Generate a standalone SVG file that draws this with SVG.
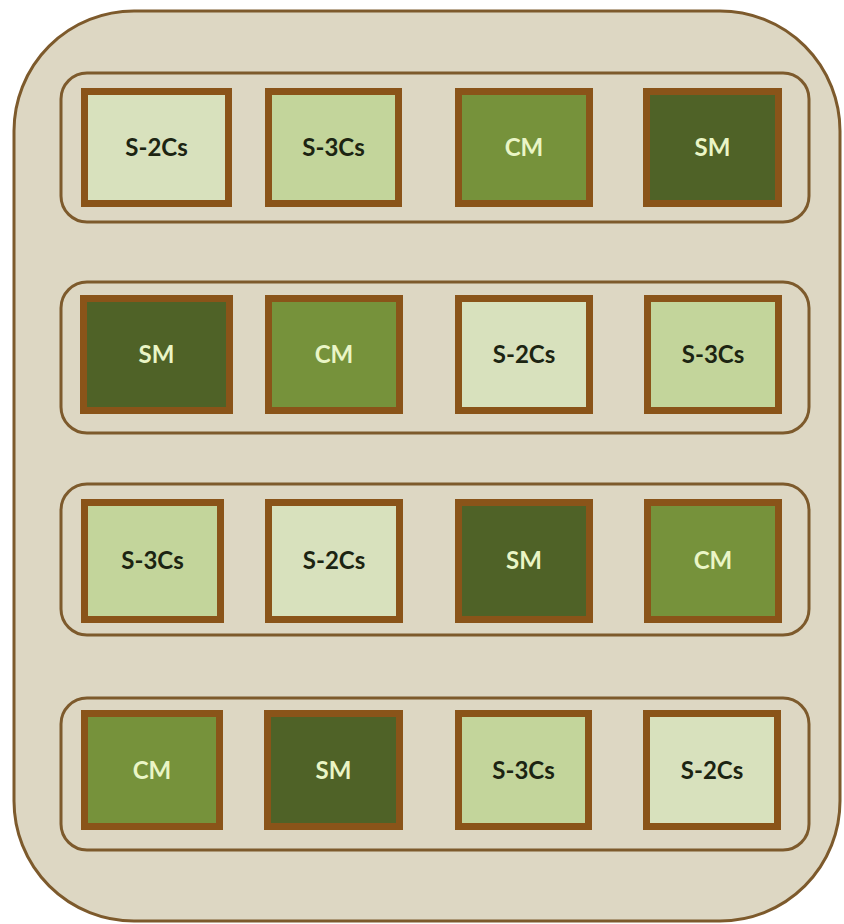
<svg xmlns="http://www.w3.org/2000/svg" width="844" height="924" viewBox="0 0 844 924">
  <style>
    .outer { fill: #ddd7c3; stroke: #7d5a2c; stroke-width: 3; }
    .band { fill: none; stroke: #7d5a2c; stroke-width: 3; }
    .box { stroke: #8a5419; stroke-width: 7; }
    .s2 { fill: #d8e1bd; }
    .s3 { fill: #c3d59b; }
    .cm { fill: #76923b; }
    .sm { fill: #4f6227; }
    text { font-family: Lato, "Liberation Sans", sans-serif; font-weight: bold; font-size: 24px; text-anchor: middle; }
    .dk { fill: #1c2412; }
    .lt { fill: #eaf5c6; }
  </style>
  <rect width="844" height="924" fill="#ffffff"/>
  <rect id="container" class="outer" x="14" y="11" width="826" height="910" rx="120" ry="120"/>
  <g id="row1">
    <rect class="band" x="61" y="73" width="748" height="149" rx="26"/>
    <g id="r1-s2cs"><rect class="box s2" x="84.5" y="91.5" width="144" height="112"/><text class="dk" x="156.5" y="156">S-2Cs</text></g>
    <g id="r1-s3cs"><rect class="box s3" x="268.5" y="91.5" width="130" height="112"/><text class="dk" x="333.5" y="156">S-3Cs</text></g>
    <g id="r1-cm"><rect class="box cm" x="458.5" y="91.5" width="131" height="112"/><text class="lt" x="524" y="156">CM</text></g>
    <g id="r1-sm"><rect class="box sm" x="646.5" y="91.5" width="132" height="112"/><text class="lt" x="712.5" y="156">SM</text></g>
  </g>
  <g id="row2">
    <rect class="band" x="61" y="282" width="748" height="151" rx="26"/>
    <g id="r2-sm"><rect class="box sm" x="83.5" y="298.5" width="146" height="112"/><text class="lt" x="156.5" y="363">SM</text></g>
    <g id="r2-cm"><rect class="box cm" x="268.5" y="298.5" width="131" height="112"/><text class="lt" x="334" y="363">CM</text></g>
    <g id="r2-s2cs"><rect class="box s2" x="458.5" y="298.5" width="131" height="112"/><text class="dk" x="524" y="363">S-2Cs</text></g>
    <g id="r2-s3cs"><rect class="box s3" x="647.5" y="298.5" width="131" height="112"/><text class="dk" x="713" y="363">S-3Cs</text></g>
  </g>
  <g id="row3">
    <rect class="band" x="61" y="484" width="748" height="151" rx="26"/>
    <g id="r3-s3cs"><rect class="box s3" x="84.5" y="502.5" width="136" height="117"/><text class="dk" x="152.5" y="569">S-3Cs</text></g>
    <g id="r3-s2cs"><rect class="box s2" x="268.5" y="502.5" width="131" height="117"/><text class="dk" x="334" y="569">S-2Cs</text></g>
    <g id="r3-sm"><rect class="box sm" x="458.5" y="502.5" width="131" height="117"/><text class="lt" x="524" y="569">SM</text></g>
    <g id="r3-cm"><rect class="box cm" x="647.5" y="502.5" width="131" height="117"/><text class="lt" x="713" y="569">CM</text></g>
  </g>
  <g id="row4">
    <rect class="band" x="61" y="698" width="748" height="152" rx="26"/>
    <g id="r4-cm"><rect class="box cm" x="84.5" y="713.5" width="135" height="113"/><text class="lt" x="152" y="779">CM</text></g>
    <g id="r4-sm"><rect class="box sm" x="267.5" y="713.5" width="132" height="113"/><text class="lt" x="333.5" y="779">SM</text></g>
    <g id="r4-s3cs"><rect class="box s3" x="458.5" y="713.5" width="130" height="113"/><text class="dk" x="523.5" y="779">S-3Cs</text></g>
    <g id="r4-s2cs"><rect class="box s2" x="646.5" y="713.5" width="131" height="113"/><text class="dk" x="712" y="779">S-2Cs</text></g>
  </g>
  <g id="connectors"/>
</svg>
